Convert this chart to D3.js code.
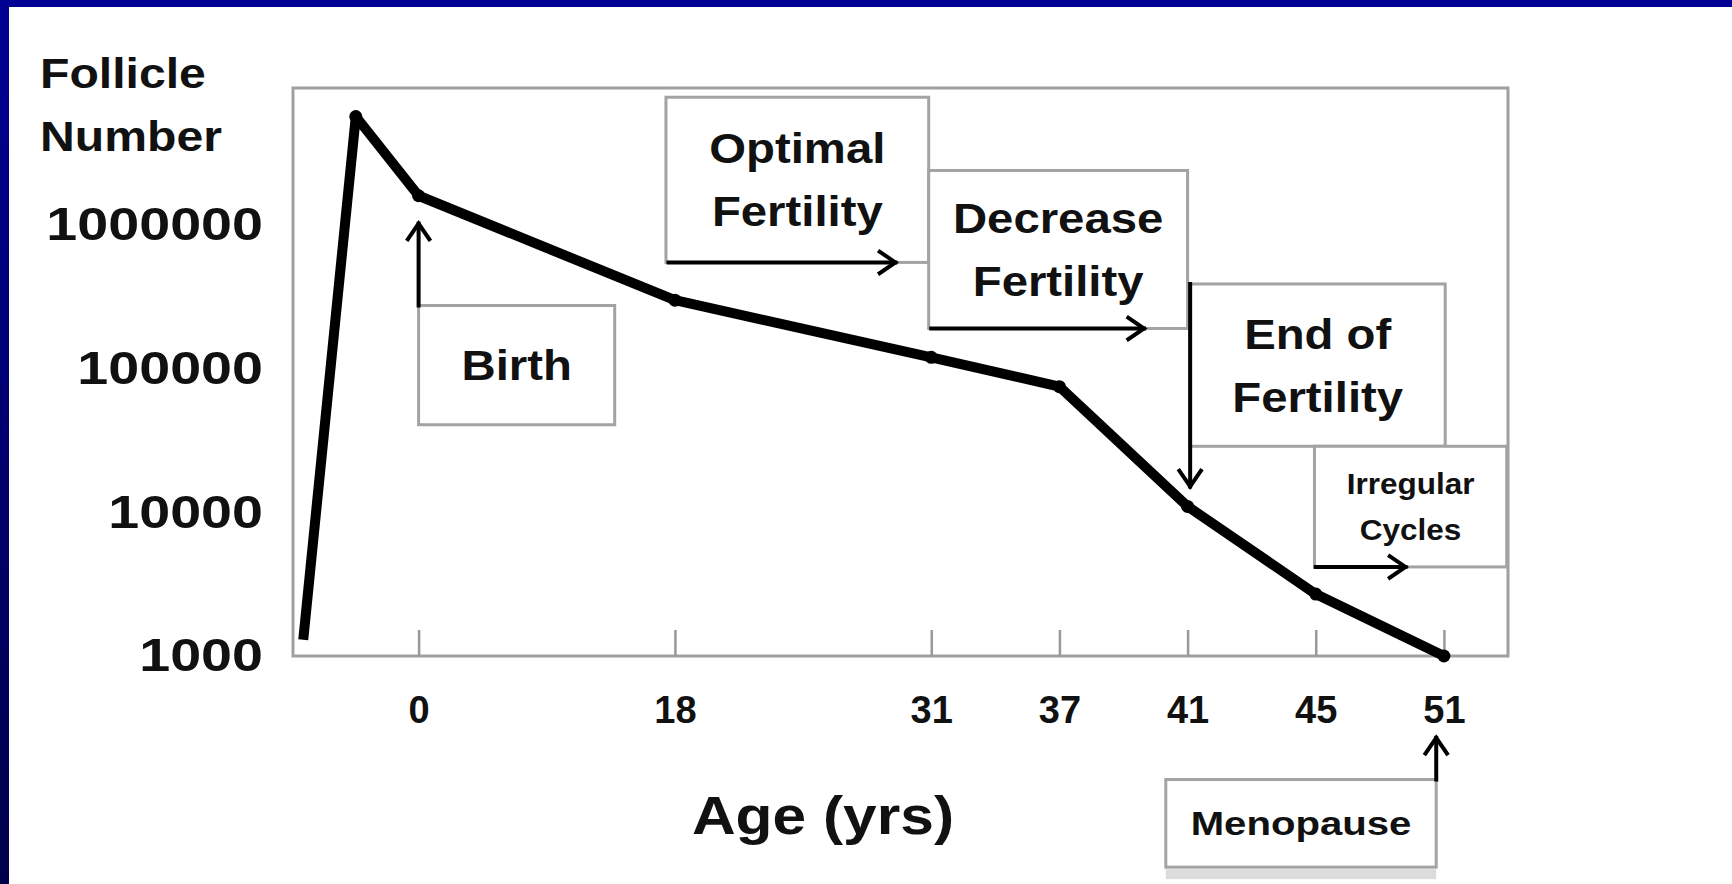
<!DOCTYPE html>
<html>
<head>
<meta charset="utf-8">
<script src="https://cdn.jsdelivr.net/npm/d3@7"></script>
<style>
  body { margin: 0; background: #fff; }
  svg { display: block; }
  text { font-family: "Liberation Sans", Arial, sans-serif; font-weight: bold; fill: #111; }
</style>
</head>
<body>
<svg id="chart"></svg>
<script>
// x axis is not drawn to scale: each age sits on its own slot
const ageLabels = ["0", "18", "31", "37", "41", "45", "51"];
const ageSlots = [0, 2, 4, 5, 6, 7, 8];

// follicle curve (slot position, follicle count)
const curveSlots = [-0.9, -0.49, 0, 2, 4, 5, 6, 7, 8];
const follicles = [1300, 5700000, 1600000, 300000, 120000, 75000, 11000, 2700, 1000];

const yTicks = [1000, 10000, 100000, 1000000];

// annotation boxes: text, slot range, log10 range (top, bottom)
const boxTexts = [["Birth"], ["Optimal", "Fertility"], ["Decrease", "Fertility"],
                  ["End of", "Fertility"], ["Irregular", "Cycles"], ["Menopause"]];
const boxSlots = [[0, 1.53], [1.93, 3.98], [3.98, 6.0], [6.02, 8.01], [6.99, 8.49], [5.83, 7.94]];
const boxLogs = [[5.44, 4.61], [6.89, 5.74], [6.38, 5.28], [5.59, 4.46], [4.46, 3.62], [2.14, 1.53]];
// arrows: [slot from, log from, slot to, log to]
const arrows = [[0, 5.44, 0, 6.01], [1.95, 5.74, 3.72, 5.74], [4.0, 5.28, 5.66, 5.28],
                [6.02, 5.59, 6.02, 4.18], [7.0, 3.62, 7.7, 3.62], [7.94, 2.14, 7.94, 2.43]];

const W = 1732, H = 884;
const svg = d3.select("#chart").attr("width", W).attr("height", H);

// blue slide frame
const defs = svg.append("defs");
const grad = defs.append("linearGradient").attr("id", "side")
    .attr("x1", 0).attr("y1", 0).attr("x2", 0).attr("y2", 1);
grad.append("stop").attr("offset", 0).attr("stop-color", "#000094");
grad.append("stop").attr("offset", 1).attr("stop-color", "#00004a");
svg.append("rect").attr("x", 0).attr("y", 0).attr("width", W).attr("height", 7).attr("fill", "#000094");
svg.append("rect").attr("x", 0).attr("y", 0).attr("width", 9).attr("height", H).attr("fill", "url(#side)");

const plotL = 293, plotR = 1508, plotT = 88, plotB = 656;

const x = d3.scaleLinear().domain([-0.98, 8.5]).range([plotL, plotR]);
const y = d3.scaleLog().domain([1000, 9000000]).range([plotB, plotT]);
const yl = e => y(Math.pow(10, e));

// stretched text helper
function label(g, cx, cy, str, size, sx) {
    g.append("g")
        .attr("transform", "translate(" + cx + "," + cy + ") scale(" + sx + ",1)")
        .append("text")
        .attr("text-anchor", "middle")
        .attr("dy", "0.35em")
        .attr("font-size", size)
        .text(str);
}

// plot frame
svg.append("rect")
    .attr("x", plotL).attr("y", plotT)
    .attr("width", plotR - plotL).attr("height", plotB - plotT)
    .attr("fill", "none").attr("stroke", "#a0a0a0").attr("stroke-width", 3);

// x axis, ticks pointing up into the plot
const xAxis = svg.append("g")
    .attr("transform", "translate(0," + plotB + ")")
    .call(d3.axisBottom(x).tickValues(ageSlots)
        .tickFormat((d, i) => ageLabels[i])
        .tickSizeInner(-26).tickSizeOuter(0).tickPadding(40));
xAxis.select(".domain").remove();
xAxis.selectAll(".tick line").attr("stroke", "#999").attr("stroke-width", 2.5);
xAxis.selectAll(".tick text")
    .attr("font-size", 38).attr("font-family", "Liberation Sans, Arial, sans-serif")
    .attr("font-weight", "bold").attr("fill", "#111");

// y axis labels only
const yAxis = svg.append("g")
    .attr("transform", "translate(" + plotL + ",0)")
    .call(d3.axisLeft(y).tickValues(yTicks).tickFormat(d3.format("d"))
        .tickSize(0).tickPadding(30));
yAxis.select(".domain").remove();
yAxis.selectAll(".tick text")
    .attr("x", 0)
    .attr("font-size", 46).attr("font-family", "Liberation Sans, Arial, sans-serif")
    .attr("font-weight", "bold").attr("fill", "#111")
    .attr("transform", "translate(-30,0) scale(1.21,1)");

// y axis title
[["Follicle", 88], ["Number", 151]].forEach(function (d) {
    svg.append("g").attr("transform", "translate(40," + d[1] + ") scale(1.12,1)")
        .append("text").attr("font-size", 43).text(d[0]);
});

// x axis title
label(svg, 823, 815, "Age (yrs)", 54, 1.12);

// annotation boxes
const boxes = svg.append("g");
boxTexts.forEach(function (lines, i) {
    const x0 = x(boxSlots[i][0]), x1 = x(boxSlots[i][1]);
    const y0 = yl(boxLogs[i][0]), y1 = yl(boxLogs[i][1]);
    const meno = lines[0] === "Menopause";
    if (meno) {
        // faint shadow band under the menopause box
        boxes.append("rect")
            .attr("x", x0).attr("y", y1 + 2)
            .attr("width", x1 - x0).attr("height", 10)
            .attr("fill", "#dcdcdc");
    }
    boxes.append("rect")
        .attr("x", x0).attr("y", y0)
        .attr("width", x1 - x0).attr("height", y1 - y0)
        .attr("fill", "#fff").attr("stroke", "#a3a3a3").attr("stroke-width", 3);
    const small = lines[0] === "Irregular";
    const size = small ? 30 : meno ? 34 : 43;
    const sx = small ? 1.05 : meno ? 1.18 : 1.1;
    const gap = small ? 46 : 63;
    const cx = (x0 + x1) / 2, cy = (y0 + y1) / 2;
    lines.forEach(function (s, j) {
        label(boxes, cx, cy + (j - (lines.length - 1) / 2) * gap, s, size, sx);
    });
});

// arrows with open chevron heads
const arrowG = svg.append("g").attr("stroke", "#000").attr("fill", "none")
    .attr("stroke-width", 4).attr("stroke-linecap", "square");
arrows.forEach(function (a) {
    const x0 = x(a[0]), y0 = yl(a[1]), x1 = x(a[2]), y1 = yl(a[3]);
    const ang = Math.atan2(y1 - y0, x1 - x0);
    const len = 19, spread = 0.6;
    arrowG.append("line").attr("x1", x0).attr("y1", y0).attr("x2", x1).attr("y2", y1);
    arrowG.append("path").attr("d",
        "M" + (x1 - len * Math.cos(ang - spread)) + "," + (y1 - len * Math.sin(ang - spread)) +
        "L" + x1 + "," + y1 +
        "L" + (x1 - len * Math.cos(ang + spread)) + "," + (y1 - len * Math.sin(ang + spread)));
});

// follicle curve
const pts = curveSlots.map((s, i) => [s, follicles[i]]);
svg.append("path")
    .datum(pts)
    .attr("fill", "none").attr("stroke", "#000")
    .attr("stroke-width", 10).attr("stroke-linejoin", "round")
    .attr("d", d3.line().x(d => x(d[0])).y(d => y(d[1])));
svg.append("g").selectAll("circle")
    .data(pts.slice(1))
    .enter().append("circle")
    .attr("cx", d => x(d[0])).attr("cy", d => y(d[1]))
    .attr("r", 6.5).attr("fill", "#000");
</script>
</body>
</html>
